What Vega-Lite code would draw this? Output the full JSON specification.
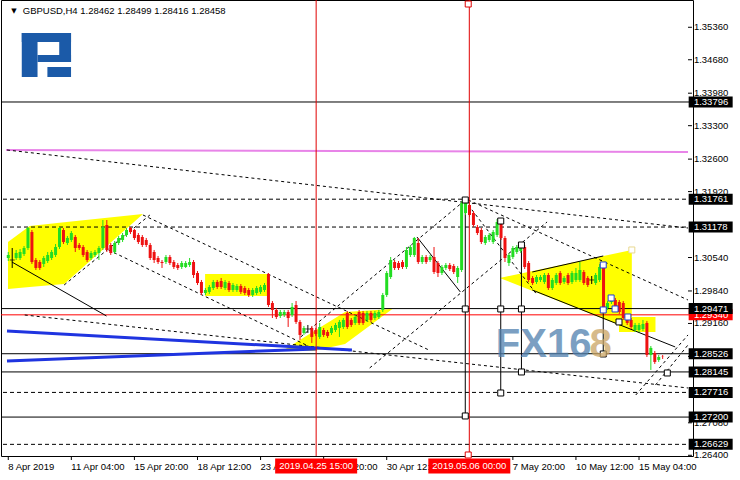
{
"$schema": "https://vega.github.io/schema/vega-lite/v6.json",
"width": 692, "height": 456,
"autosize": {"type": "none"},
"padding": {"left": 1, "top": 0, "right": 47, "bottom": 24},
"background": "white",
"config": {"view": {"stroke": "#000000", "strokeWidth": 1}},
"datasets": {
"candles": [
{"i":0,"o":1.30530,"h":1.30656,"l":1.30467,"c":1.30593},
{"i":1,"o":1.30488,"h":1.30739,"l":1.30321,"c":1.30488},
{"i":2,"o":1.30530,"h":1.30698,"l":1.30488,"c":1.30635},
{"i":3,"o":1.30530,"h":1.30718,"l":1.30488,"c":1.30656},
{"i":4,"o":1.30614,"h":1.30781,"l":1.30572,"c":1.30739},
{"i":5,"o":1.30739,"h":1.31179,"l":1.30698,"c":1.31158},
{"i":6,"o":1.31074,"h":1.31116,"l":1.30405,"c":1.30446},
{"i":7,"o":1.30488,"h":1.30530,"l":1.30279,"c":1.30321},
{"i":8,"o":1.30446,"h":1.30488,"l":1.30279,"c":1.30321},
{"i":9,"o":1.30405,"h":1.30572,"l":1.30342,"c":1.30530},
{"i":10,"o":1.30467,"h":1.30656,"l":1.30425,"c":1.30593},
{"i":11,"o":1.30530,"h":1.30698,"l":1.30488,"c":1.30656},
{"i":12,"o":1.30593,"h":1.30823,"l":1.30551,"c":1.30760},
{"i":13,"o":1.30760,"h":1.31179,"l":1.30718,"c":1.31158},
{"i":14,"o":1.31116,"h":1.31158,"l":1.30823,"c":1.30865},
{"i":15,"o":1.30844,"h":1.30991,"l":1.30802,"c":1.30949},
{"i":16,"o":1.30907,"h":1.31095,"l":1.30865,"c":1.31053},
{"i":17,"o":1.30970,"h":1.31011,"l":1.30656,"c":1.30739},
{"i":18,"o":1.30802,"h":1.30844,"l":1.30698,"c":1.30739},
{"i":19,"o":1.30760,"h":1.30802,"l":1.30551,"c":1.30593},
{"i":20,"o":1.30656,"h":1.30698,"l":1.30446,"c":1.30488},
{"i":21,"o":1.30530,"h":1.30677,"l":1.30488,"c":1.30635},
{"i":22,"o":1.30593,"h":1.30698,"l":1.30551,"c":1.30656},
{"i":23,"o":1.30635,"h":1.30781,"l":1.30488,"c":1.30739},
{"i":24,"o":1.30739,"h":1.31325,"l":1.30698,"c":1.31179},
{"i":25,"o":1.31221,"h":1.31325,"l":1.30656,"c":1.30698},
{"i":26,"o":1.30802,"h":1.30844,"l":1.30593,"c":1.30635},
{"i":27,"o":1.30656,"h":1.30886,"l":1.30614,"c":1.30844},
{"i":28,"o":1.30844,"h":1.30991,"l":1.30802,"c":1.30949},
{"i":29,"o":1.30907,"h":1.31053,"l":1.30865,"c":1.31011},
{"i":30,"o":1.31011,"h":1.31158,"l":1.30970,"c":1.31116},
{"i":31,"o":1.31158,"h":1.31179,"l":1.31032,"c":1.31074},
{"i":32,"o":1.31116,"h":1.31137,"l":1.30907,"c":1.30949},
{"i":33,"o":1.31011,"h":1.31053,"l":1.30823,"c":1.30865},
{"i":34,"o":1.30970,"h":1.31011,"l":1.30760,"c":1.30802},
{"i":35,"o":1.30907,"h":1.30949,"l":1.30760,"c":1.30802},
{"i":36,"o":1.30802,"h":1.30844,"l":1.30488,"c":1.30530},
{"i":37,"o":1.30656,"h":1.30698,"l":1.30425,"c":1.30488},
{"i":38,"o":1.30530,"h":1.30572,"l":1.30405,"c":1.30446},
{"i":39,"o":1.30446,"h":1.30488,"l":1.30321,"c":1.30425},
{"i":40,"o":1.30446,"h":1.30593,"l":1.30405,"c":1.30551},
{"i":41,"o":1.30551,"h":1.30593,"l":1.30384,"c":1.30425},
{"i":42,"o":1.30446,"h":1.30488,"l":1.30300,"c":1.30342},
{"i":43,"o":1.30384,"h":1.30425,"l":1.30279,"c":1.30321},
{"i":44,"o":1.30342,"h":1.30467,"l":1.30300,"c":1.30425},
{"i":45,"o":1.30342,"h":1.30467,"l":1.30321,"c":1.30425},
{"i":46,"o":1.30384,"h":1.30530,"l":1.30342,"c":1.30446},
{"i":47,"o":1.30446,"h":1.30488,"l":1.30112,"c":1.30174},
{"i":48,"o":1.30216,"h":1.30258,"l":1.29965,"c":1.30007},
{"i":49,"o":1.30028,"h":1.30070,"l":1.29756,"c":1.29798},
{"i":50,"o":1.29798,"h":1.29902,"l":1.29756,"c":1.29860},
{"i":51,"o":1.29819,"h":1.29965,"l":1.29777,"c":1.29923},
{"i":52,"o":1.29902,"h":1.30070,"l":1.29860,"c":1.30028},
{"i":53,"o":1.30028,"h":1.30070,"l":1.29881,"c":1.29923},
{"i":54,"o":1.30049,"h":1.30112,"l":1.29881,"c":1.29923},
{"i":55,"o":1.29902,"h":1.30070,"l":1.29860,"c":1.30028},
{"i":56,"o":1.30007,"h":1.30049,"l":1.29819,"c":1.29860},
{"i":57,"o":1.29860,"h":1.30007,"l":1.29819,"c":1.29965},
{"i":58,"o":1.29860,"h":1.29986,"l":1.29819,"c":1.29944},
{"i":59,"o":1.29944,"h":1.29986,"l":1.29777,"c":1.29819},
{"i":60,"o":1.29902,"h":1.29944,"l":1.29756,"c":1.29798},
{"i":61,"o":1.29860,"h":1.29902,"l":1.29714,"c":1.29756},
{"i":62,"o":1.29756,"h":1.29902,"l":1.29714,"c":1.29860},
{"i":63,"o":1.29798,"h":1.29944,"l":1.29756,"c":1.29902},
{"i":64,"o":1.29819,"h":1.29965,"l":1.29777,"c":1.29923},
{"i":65,"o":1.29860,"h":1.30007,"l":1.29819,"c":1.29965},
{"i":66,"o":1.30195,"h":1.30216,"l":1.29505,"c":1.29546},
{"i":67,"o":1.29588,"h":1.29630,"l":1.29274,"c":1.29442},
{"i":68,"o":1.29442,"h":1.29484,"l":1.29253,"c":1.29295},
{"i":69,"o":1.29316,"h":1.29442,"l":1.29274,"c":1.29400},
{"i":70,"o":1.29337,"h":1.29442,"l":1.29295,"c":1.29400},
{"i":71,"o":1.29400,"h":1.29442,"l":1.29086,"c":1.29274},
{"i":72,"o":1.29337,"h":1.29588,"l":1.29295,"c":1.29505},
{"i":73,"o":1.29546,"h":1.29630,"l":1.29149,"c":1.29191},
{"i":74,"o":1.29191,"h":1.29233,"l":1.28814,"c":1.28919},
{"i":75,"o":1.28960,"h":1.29107,"l":1.28919,"c":1.29065},
{"i":76,"o":1.29044,"h":1.29128,"l":1.28960,"c":1.29044},
{"i":77,"o":1.29065,"h":1.29107,"l":1.28751,"c":1.28877},
{"i":78,"o":1.29023,"h":1.29065,"l":1.28898,"c":1.28940},
{"i":79,"o":1.28877,"h":1.29170,"l":1.28835,"c":1.29086},
{"i":80,"o":1.29023,"h":1.29065,"l":1.28877,"c":1.28919},
{"i":81,"o":1.28981,"h":1.29023,"l":1.28856,"c":1.28898},
{"i":82,"o":1.28960,"h":1.29107,"l":1.28919,"c":1.29065},
{"i":83,"o":1.29023,"h":1.29170,"l":1.28981,"c":1.29128},
{"i":84,"o":1.29065,"h":1.29233,"l":1.28877,"c":1.29191},
{"i":85,"o":1.29086,"h":1.29274,"l":1.29044,"c":1.29233},
{"i":86,"o":1.29379,"h":1.29421,"l":1.29044,"c":1.29086},
{"i":87,"o":1.29233,"h":1.29274,"l":1.29086,"c":1.29128},
{"i":88,"o":1.29170,"h":1.29337,"l":1.29128,"c":1.29295},
{"i":89,"o":1.29400,"h":1.29442,"l":1.29128,"c":1.29170},
{"i":90,"o":1.29379,"h":1.29421,"l":1.29128,"c":1.29170},
{"i":91,"o":1.29233,"h":1.29421,"l":1.29191,"c":1.29379},
{"i":92,"o":1.29379,"h":1.29421,"l":1.29191,"c":1.29233},
{"i":93,"o":1.29274,"h":1.29421,"l":1.29233,"c":1.29379},
{"i":94,"o":1.29295,"h":1.29442,"l":1.29253,"c":1.29400},
{"i":95,"o":1.29442,"h":1.29798,"l":1.29400,"c":1.29756},
{"i":96,"o":1.29756,"h":1.30258,"l":1.29714,"c":1.30216},
{"i":97,"o":1.30132,"h":1.30551,"l":1.30091,"c":1.30488},
{"i":98,"o":1.30446,"h":1.30488,"l":1.30279,"c":1.30321},
{"i":99,"o":1.30425,"h":1.30467,"l":1.30279,"c":1.30321},
{"i":100,"o":1.30446,"h":1.30488,"l":1.30300,"c":1.30342},
{"i":101,"o":1.30342,"h":1.30760,"l":1.30300,"c":1.30698},
{"i":102,"o":1.30593,"h":1.30802,"l":1.30551,"c":1.30760},
{"i":103,"o":1.30593,"h":1.30970,"l":1.30551,"c":1.30949},
{"i":104,"o":1.30844,"h":1.30949,"l":1.30405,"c":1.30446},
{"i":105,"o":1.30446,"h":1.30593,"l":1.30405,"c":1.30551},
{"i":106,"o":1.30551,"h":1.30593,"l":1.30405,"c":1.30446},
{"i":107,"o":1.30488,"h":1.30593,"l":1.30446,"c":1.30551},
{"i":108,"o":1.30551,"h":1.30760,"l":1.30195,"c":1.30237},
{"i":109,"o":1.30425,"h":1.30467,"l":1.30132,"c":1.30216},
{"i":110,"o":1.30216,"h":1.30384,"l":1.30174,"c":1.30342},
{"i":111,"o":1.30321,"h":1.30425,"l":1.30279,"c":1.30384},
{"i":112,"o":1.30384,"h":1.30425,"l":1.30258,"c":1.30300},
{"i":113,"o":1.30363,"h":1.30405,"l":1.30195,"c":1.30237},
{"i":114,"o":1.30132,"h":1.30363,"l":1.30007,"c":1.30321},
{"i":115,"o":1.30279,"h":1.31723,"l":1.30237,"c":1.31681},
{"i":116,"o":1.31472,"h":1.31786,"l":1.31430,"c":1.31744},
{"i":117,"o":1.31639,"h":1.31702,"l":1.31388,"c":1.31430},
{"i":118,"o":1.31472,"h":1.31514,"l":1.31179,"c":1.31221},
{"i":119,"o":1.31179,"h":1.31221,"l":1.31011,"c":1.31053},
{"i":120,"o":1.31116,"h":1.31158,"l":1.30823,"c":1.30865},
{"i":121,"o":1.30844,"h":1.31011,"l":1.30802,"c":1.30970},
{"i":122,"o":1.30907,"h":1.31053,"l":1.30865,"c":1.31011},
{"i":123,"o":1.30865,"h":1.31116,"l":1.30823,"c":1.31074},
{"i":124,"o":1.31011,"h":1.31346,"l":1.30970,"c":1.31284},
{"i":125,"o":1.31284,"h":1.31325,"l":1.30907,"c":1.30949},
{"i":126,"o":1.30949,"h":1.30991,"l":1.30446,"c":1.30530},
{"i":127,"o":1.30425,"h":1.30635,"l":1.30363,"c":1.30593},
{"i":128,"o":1.30551,"h":1.30781,"l":1.30509,"c":1.30739},
{"i":129,"o":1.30656,"h":1.30802,"l":1.30614,"c":1.30760},
{"i":130,"o":1.30677,"h":1.30844,"l":1.30635,"c":1.30802},
{"i":131,"o":1.30760,"h":1.30802,"l":1.30300,"c":1.30342},
{"i":132,"o":1.30425,"h":1.30467,"l":1.30028,"c":1.30070},
{"i":133,"o":1.30112,"h":1.30153,"l":1.29965,"c":1.30007},
{"i":134,"o":1.30028,"h":1.30174,"l":1.29986,"c":1.30132},
{"i":135,"o":1.30070,"h":1.30174,"l":1.30028,"c":1.30132},
{"i":136,"o":1.30028,"h":1.30216,"l":1.29986,"c":1.30174},
{"i":137,"o":1.30174,"h":1.30216,"l":1.29860,"c":1.29902},
{"i":138,"o":1.29902,"h":1.30112,"l":1.29860,"c":1.30070},
{"i":139,"o":1.30007,"h":1.30216,"l":1.29965,"c":1.30174},
{"i":140,"o":1.30216,"h":1.30258,"l":1.29965,"c":1.30007},
{"i":141,"o":1.30028,"h":1.30153,"l":1.29986,"c":1.30112},
{"i":142,"o":1.30174,"h":1.30216,"l":1.29965,"c":1.30007},
{"i":143,"o":1.30028,"h":1.30258,"l":1.29986,"c":1.30216},
{"i":144,"o":1.30070,"h":1.30321,"l":1.30028,"c":1.30216},
{"i":145,"o":1.30070,"h":1.30446,"l":1.30028,"c":1.30279},
{"i":146,"o":1.30237,"h":1.30279,"l":1.29965,"c":1.30007},
{"i":147,"o":1.30112,"h":1.30153,"l":1.29923,"c":1.29965},
{"i":148,"o":1.30070,"h":1.30153,"l":1.29986,"c":1.30070},
{"i":149,"o":1.30007,"h":1.30216,"l":1.29965,"c":1.30174},
{"i":150,"o":1.30070,"h":1.30405,"l":1.30028,"c":1.30342},
{"i":151,"o":1.30321,"h":1.30363,"l":1.29358,"c":1.29400},
{"i":152,"o":1.29484,"h":1.29630,"l":1.29442,"c":1.29588},
{"i":153,"o":1.29609,"h":1.29756,"l":1.29567,"c":1.29714},
{"i":154,"o":1.29651,"h":1.29693,"l":1.29463,"c":1.29505},
{"i":155,"o":1.29609,"h":1.29651,"l":1.29358,"c":1.29400},
{"i":156,"o":1.29588,"h":1.29630,"l":1.29233,"c":1.29274},
{"i":157,"o":1.29295,"h":1.29337,"l":1.29128,"c":1.29170},
{"i":158,"o":1.29233,"h":1.29274,"l":1.29044,"c":1.29086},
{"i":159,"o":1.29023,"h":1.29170,"l":1.28981,"c":1.29128},
{"i":160,"o":1.29023,"h":1.29170,"l":1.28981,"c":1.29128},
{"i":161,"o":1.29044,"h":1.29233,"l":1.29002,"c":1.29149},
{"i":162,"o":1.29170,"h":1.29212,"l":1.28458,"c":1.28500},
{"i":163,"o":1.28500,"h":1.28688,"l":1.28186,"c":1.28647},
{"i":164,"o":1.28542,"h":1.28584,"l":1.28312,"c":1.28354},
{"i":165,"o":1.28396,"h":1.28500,"l":1.28354,"c":1.28458},
{"i":166,"o":1.28462,"h":1.28499,"l":1.28416,"c":1.28458}
],
"areas": [
{"p":"A","x":-0.075,"top":1.30865,"bot":1.29881},
{"p":"A","x":5.425,"top":1.31200,"bot":1.29921},
{"p":"A","x":14.175,"top":1.31277,"bot":1.29986},
{"p":"A","x":34.175,"top":1.31451,"bot":1.31451},
{"p":"B","x":49.925,"top":1.30195,"bot":1.29735},
{"p":"B","x":65.925,"top":1.30195,"bot":1.29735},
{"p":"C","x":69.925,"top":1.28605,"bot":1.28605},
{"p":"C","x":77.425,"top":1.28989,"bot":1.28584},
{"p":"C","x":85.425,"top":1.29400,"bot":1.28730},
{"p":"C","x":97.425,"top":1.29463,"bot":1.29463},
{"p":"D","x":124.675,"top":1.30112,"bot":1.30112},
{"p":"D","x":158.175,"top":1.30698,"bot":1.29023},
{"p":"E","x":154.925,"top":1.29295,"bot":1.28981},
{"p":"E","x":164.175,"top":1.29295,"bot":1.28981}
],
"levels": [{"v":1.33796},{"v":1.29471},{"v":1.28526},{"v":1.28145},{"v":1.27200}],
"dlevels": [{"v":1.31761},{"v":1.31178},{"v":1.27716},{"v":1.26629}],
"bidlevel": [{"v":1.29340}],
"magenta": [{"x":-0.575,"y":1.32791,"x2":172.425,"y2":1.32749}],
"dashed": [
{"x":-0.325,"y":1.32791,"x2":172.425,"y2":1.31158},
{"x":116.675,"y":1.31744,"x2":172.425,"y2":1.29651},
{"x":34.175,"y":1.31430,"x2":106.675,"y2":1.28605},
{"x":25.425,"y":1.30698,"x2":78.175,"y2":1.28605},
{"x":14.175,"y":1.29965,"x2":35.925,"y2":1.31430},
{"x":4.175,"y":1.29337,"x2":172.425,"y2":1.27809},
{"x":74.175,"y":1.28877,"x2":115.925,"y2":1.31744},
{"x":91.675,"y":1.28228,"x2":136.675,"y2":1.31284},
{"x":116.675,"y":1.31639,"x2":134.175,"y2":1.29756},
{"x":159.175,"y":1.27662,"x2":172.425,"y2":1.28919},
{"x":164.175,"y":1.27871,"x2":172.425,"y2":1.28709}
],
"solid": [
{"x":0.925,"y":1.30446,"x2":24.925,"y2":1.29316},
{"x":132.925,"y":1.30237,"x2":150.925,"y2":1.30572},
{"x":132.925,"y":1.29860,"x2":169.175,"y2":1.28668},
{"x":103.675,"y":1.30970,"x2":114.675,"y2":1.29819},
{"x":115.925,"y":1.31744,"x2":115.925,"y2":1.27202},
{"x":124.925,"y":1.31304,"x2":124.925,"y2":1.27704},
{"x":130.175,"y":1.30802,"x2":130.175,"y2":1.28144},
{"x":150.925,"y":1.30384,"x2":150.925,"y2":1.28521}
],
"blue": [
{"x":-0.325,"y":1.29002,"x2":87.175,"y2":1.28605},
{"x":-0.325,"y":1.28375,"x2":78.175,"y2":1.28626}
],
"times": [{"t":78.1,"label":"2019.04.25 15:00"},{"t":116.95,"label":"2019.05.06 00:00"}],
"yticks": [
{"v":1.3536,"label":"1.35360"},{"v":1.3468,"label":"1.34680"},{"v":1.3398,"label":"1.33980"},{"v":1.333,"label":"1.33300"},
{"v":1.326,"label":"1.32600"},{"v":1.3192,"label":"1.31920"},{"v":1.3054,"label":"1.30540"},
{"v":1.2984,"label":"1.29840"},{"v":1.2916,"label":"1.29160"},{"v":1.2847,"label":"1.28470"},
{"v":1.2708,"label":"1.27080"},{"v":1.264,"label":"1.26400"}
],
"xticks": [
{"t":0,"label":"8 Apr 2019"},{"t":16,"label":"11 Apr 04:00"},{"t":32,"label":"15 Apr 20:00"},{"t":48,"label":"18 Apr 12:00"},
{"t":64,"label":"23 Apr 04:00"},{"t":80,"label":"25 Apr 20:00"},{"t":96,"label":"30 Apr 12:00"},
{"t":128,"label":"7 May 20:00"},{"t":144,"label":"10 May 12:00"},{"t":160,"label":"15 May 04:00"}
],
"tags": [
{"v":1.29340,"label":"1.29340","kind":"bid"},
{"v":1.33796,"label":"1.33796","kind":"level"},
{"v":1.31761,"label":"1.31761","kind":"level"},
{"v":1.31178,"label":"1.31178","kind":"level"},
{"v":1.29471,"label":"1.29471","kind":"level"},
{"v":1.28526,"label":"1.28526","kind":"level"},
{"v":1.28145,"label":"1.28145","kind":"level"},
{"v":1.27716,"label":"1.27716","kind":"level"},
{"v":1.27200,"label":"1.27200","kind":"level"},
{"v":1.26629,"label":"1.26629","kind":"level"}
],
"anchors": [
{"x":115.925,"y":1.31744,"g":"tool"},{"x":115.925,"y":1.29463,"g":"tool"},{"x":115.925,"y":1.27223,"g":"tool"},
{"x":124.925,"y":1.31304,"g":"tool"},{"x":124.925,"y":1.29463,"g":"tool"},{"x":124.925,"y":1.27704,"g":"tool"},
{"x":130.175,"y":1.30802,"g":"tool"},{"x":130.175,"y":1.29463,"g":"tool"},{"x":130.175,"y":1.28144,"g":"tool"},
{"x":150.925,"y":1.28521,"g":"tool"},{"x":154.925,"y":1.29191,"g":"tool"},{"x":167.175,"y":1.28123,"g":"tool"},
{"x":150.925,"y":1.30384,"g":"pattern"},{"x":150.925,"y":1.29442,"g":"pattern"},{"x":152.925,"y":1.29693,"g":"pattern"},
{"x":153.925,"y":1.29463,"g":"pattern"},{"x":157.175,"y":1.29295,"g":"pattern"},
{"x":116.675,"y":1.35847,"g":"time"},{"x":116.675,"y":1.26406,"g":"time"},
{"x":158.175,"y":1.30698,"g":"target"}
],
"wm": [{"x":123.675,"y":1.28458,"label":"FX16","part":"a"},{"x":147.425,"y":1.28458,"label":"8","part":"b"}],
"logo": [
{"x":3.425,"x2":7.425,"y":1.35240,"y2":1.34319},
{"x":3.425,"x2":15.925,"y":1.35240,"y2":1.35052},
{"x":12.925,"x2":15.925,"y":1.35240,"y2":1.34633},
{"x":7.425,"x2":15.925,"y":1.34780,"y2":1.34633},
{"x":9.925,"x2":15.925,"y":1.34528,"y2":1.34319}
],
"hdr": [{"x":3.675,"y":1.35701,"label":"GBPUSD,H4  1.28462 1.28499 1.28416 1.28458"}],
"arrow": [{"x":1.425,"y":1.35701,"label":"▼"}]
},
"layer": [
{"data":{"name":"areas"},"mark":{"type":"area","color":"#ffff00","opacity":1},
 "encoding":{"x":{"field":"x","type":"quantitative","scale":{"domain":[-0.575,172.425],"nice":false,"zero":false},"axis":null},
  "y":{"field":"top","type":"quantitative","scale":{"domain":[1.26385,1.35931],"nice":false,"zero":false},"axis":null,"stack":null},
  "y2":{"field":"bot"},"detail":{"field":"p","type":"nominal"}}},
{"data":{"name":"levels"},"mark":{"type":"rule","color":"#000000","strokeWidth":1},
 "encoding":{"y":{"field":"v","type":"quantitative","scale":{"domain":[1.26385,1.35931],"nice":false,"zero":false},"axis":null}}},
{"data":{"name":"dlevels"},"mark":{"type":"rule","color":"#000000","strokeWidth":1,"strokeDash":[4,3]},
 "encoding":{"y":{"field":"v","type":"quantitative","scale":{"domain":[1.26385,1.35931],"nice":false,"zero":false},"axis":null}}},
{"data":{"name":"bidlevel"},"mark":{"type":"rule","color":"#ff0000","strokeWidth":1},
 "encoding":{"y":{"field":"v","type":"quantitative","scale":{"domain":[1.26385,1.35931],"nice":false,"zero":false},"axis":null}}},
{"data":{"name":"magenta"},"mark":{"type":"rule","color":"#e884e8","strokeWidth":2},
 "encoding":{"x":{"field":"x","type":"quantitative","scale":{"domain":[-0.575,172.425],"nice":false,"zero":false},"axis":null},
  "y":{"field":"y","type":"quantitative","scale":{"domain":[1.26385,1.35931],"nice":false,"zero":false},"axis":null},
  "x2":{"field":"x2"},"y2":{"field":"y2"}}},
{"data":{"name":"dashed"},"mark":{"type":"rule","color":"#000000","strokeWidth":1,"strokeDash":[3,3]},
 "encoding":{"x":{"field":"x","type":"quantitative","scale":{"domain":[-0.575,172.425],"nice":false,"zero":false},"axis":null},
  "y":{"field":"y","type":"quantitative","scale":{"domain":[1.26385,1.35931],"nice":false,"zero":false},"axis":null},
  "x2":{"field":"x2"},"y2":{"field":"y2"}}},
{"data":{"name":"solid"},"mark":{"type":"rule","color":"#000000","strokeWidth":1},
 "encoding":{"x":{"field":"x","type":"quantitative","scale":{"domain":[-0.575,172.425],"nice":false,"zero":false},"axis":null},
  "y":{"field":"y","type":"quantitative","scale":{"domain":[1.26385,1.35931],"nice":false,"zero":false},"axis":null},
  "x2":{"field":"x2"},"y2":{"field":"y2"}}},
{"data":{"name":"blue"},"mark":{"type":"rule","color":"#1f34e0","strokeWidth":3},
 "encoding":{"x":{"field":"x","type":"quantitative","scale":{"domain":[-0.575,172.425],"nice":false,"zero":false},"axis":null},
  "y":{"field":"y","type":"quantitative","scale":{"domain":[1.26385,1.35931],"nice":false,"zero":false},"axis":null},
  "x2":{"field":"x2"},"y2":{"field":"y2"}}},
{"data":{"name":"times"},"mark":{"type":"rule","color":"#e00000","strokeWidth":1},
 "encoding":{"x":{"field":"t","type":"quantitative","scale":{"domain":[-0.575,172.425],"nice":false,"zero":false},"axis":null}}},
{"data":{"name":"candles"},"mark":{"type":"rule","strokeWidth":1},
 "encoding":{"x":{"field":"i","type":"quantitative","scale":{"domain":[-0.575,172.425],"nice":false,"zero":false},"axis":null},
  "y":{"field":"l","type":"quantitative","scale":{"domain":[1.26385,1.35931],"nice":false,"zero":false},"axis":null},
  "y2":{"field":"h"},
  "color":{"condition":[{"test":"datum.c > datum.o","value":"#22dd22"},{"test":"datum.c < datum.o","value":"#ee1111"}],"value":"#000000"}}},
{"data":{"name":"candles"},"mark":{"type":"bar","size":3},
 "encoding":{"x":{"field":"i","type":"quantitative","scale":{"domain":[-0.575,172.425],"nice":false,"zero":false},"axis":null},
  "y":{"field":"o","type":"quantitative","scale":{"domain":[1.26385,1.35931],"nice":false,"zero":false},"axis":null,"stack":null},
  "y2":{"field":"c"},
  "color":{"condition":[{"test":"datum.c > datum.o","value":"#22dd22"},{"test":"datum.c < datum.o","value":"#ee1111"}],"value":"#000000"}}},
{"data":{"name":"candles"},"transform":[{"filter":"datum.o == datum.c"}],"mark":{"type":"tick","orient":"horizontal","size":5,"thickness":1,"color":"#000000"},
 "encoding":{"x":{"field":"i","type":"quantitative","scale":{"domain":[-0.575,172.425],"nice":false,"zero":false},"axis":null},
  "y":{"field":"o","type":"quantitative","scale":{"domain":[1.26385,1.35931],"nice":false,"zero":false},"axis":null}}},
{"data":{"name":"anchors"},"mark":{"type":"point","shape":"square","size":36,"filled":false,"fill":"#ffffff","fillOpacity":1,"opacity":1,"strokeWidth":1},
 "encoding":{"x":{"field":"x","type":"quantitative","scale":{"domain":[-0.575,172.425],"nice":false,"zero":false},"axis":null},
  "y":{"field":"y","type":"quantitative","scale":{"domain":[1.26385,1.35931],"nice":false,"zero":false},"axis":null},
  "stroke":{"field":"g","type":"nominal","scale":{"domain":["tool","pattern","time","target"],"range":["#000000","#1f3fd0","#e00000","#e8d890"]},"legend":null}}},
{"data":{"name":"wm"},"transform":[{"filter":"datum.part == 'a'"}],"mark":{"type":"text","font":"Liberation Sans","fontWeight":"bold","fontSize":40,"align":"left","baseline":"alphabetic","opacity":0.75,"color":"#4f7fae"},
 "encoding":{"x":{"field":"x","type":"quantitative","scale":{"domain":[-0.575,172.425],"nice":false,"zero":false},"axis":null},
  "y":{"field":"y","type":"quantitative","scale":{"domain":[1.26385,1.35931],"nice":false,"zero":false},"axis":null},
  "text":{"field":"label"}}},
{"data":{"name":"wm"},"transform":[{"filter":"datum.part == 'b'"}],"mark":{"type":"text","font":"Liberation Sans","fontWeight":"bold","fontSize":40,"align":"left","baseline":"alphabetic","opacity":0.75,"color":"#c9a463"},
 "encoding":{"x":{"field":"x","type":"quantitative","scale":{"domain":[-0.575,172.425],"nice":false,"zero":false},"axis":null},
  "y":{"field":"y","type":"quantitative","scale":{"domain":[1.26385,1.35931],"nice":false,"zero":false},"axis":null},
  "text":{"field":"label"}}},
{"data":{"name":"logo"},"mark":{"type":"rect","color":"#1b5aa8"},
 "encoding":{"x":{"field":"x","type":"quantitative","scale":{"domain":[-0.575,172.425],"nice":false,"zero":false},"axis":null},
  "x2":{"field":"x2"},
  "y":{"field":"y","type":"quantitative","scale":{"domain":[1.26385,1.35931],"nice":false,"zero":false},"axis":null},
  "y2":{"field":"y2"}}},
{"data":{"name":"hdr"},"mark":{"type":"text","font":"Liberation Sans","fontSize":9.5,"align":"left","baseline":"middle","color":"#000000"},
 "encoding":{"x":{"field":"x","type":"quantitative","scale":{"domain":[-0.575,172.425],"nice":false,"zero":false},"axis":null},
  "y":{"field":"y","type":"quantitative","scale":{"domain":[1.26385,1.35931],"nice":false,"zero":false},"axis":null},
  "text":{"field":"label"}}},
{"data":{"name":"arrow"},"mark":{"type":"text","font":"DejaVu Sans","fontSize":7,"align":"center","baseline":"middle","color":"#000000"},
 "encoding":{"x":{"field":"x","type":"quantitative","scale":{"domain":[-0.575,172.425],"nice":false,"zero":false},"axis":null},
  "y":{"field":"y","type":"quantitative","scale":{"domain":[1.26385,1.35931],"nice":false,"zero":false},"axis":null},
  "text":{"field":"label"}}},
{"data":{"name":"yticks"},"mark":{"type":"rule","color":"#000000","strokeWidth":1},
 "encoding":{"x":{"datum":172.425,"type":"quantitative","scale":{"domain":[-0.575,172.425],"nice":false,"zero":false},"axis":null},
  "x2":{"datum":173.425},
  "y":{"field":"v","type":"quantitative","scale":{"domain":[1.26385,1.35931],"nice":false,"zero":false},"axis":null}}},
{"data":{"name":"yticks"},"mark":{"type":"text","font":"Liberation Sans","fontSize":9.5,"align":"left","baseline":"middle","color":"#000000"},
 "encoding":{"x":{"datum":173.925,"type":"quantitative","scale":{"domain":[-0.575,172.425],"nice":false,"zero":false},"axis":null},
  "y":{"field":"v","type":"quantitative","scale":{"domain":[1.26385,1.35931],"nice":false,"zero":false},"axis":null},
  "text":{"field":"label"}}},
{"data":{"name":"xticks"},"mark":{"type":"rule","color":"#000000","strokeWidth":1},
 "encoding":{"x":{"field":"t","type":"quantitative","scale":{"domain":[-0.575,172.425],"nice":false,"zero":false},"axis":null},
  "y":{"datum":1.26385,"type":"quantitative","scale":{"domain":[1.26385,1.35931],"nice":false,"zero":false},"axis":null},
  "y2":{"datum":1.26301}}},
{"data":{"name":"xticks"},"mark":{"type":"text","font":"Liberation Sans","fontSize":9.5,"align":"left","baseline":"top","color":"#000000"},
 "encoding":{"x":{"field":"t","type":"quantitative","scale":{"domain":[-0.575,172.425],"nice":false,"zero":false},"axis":null},
  "y":{"datum":1.26260,"type":"quantitative","scale":{"domain":[1.26385,1.35931],"nice":false,"zero":false},"axis":null},
  "text":{"field":"label"}}},
{"data":{"name":"tags"},"transform":[{"filter":"datum.kind == 'bid'"}],"mark":{"type":"point","shape":"M-1,-0.25H1V0.25H-1Z","filled":true,"opacity":1,"size":1936,"strokeWidth":0,"color":"#ff0000"},
 "encoding":{"x":{"datum":178.175,"type":"quantitative","scale":{"domain":[-0.575,172.425],"nice":false,"zero":false},"axis":null},
  "y":{"field":"v","type":"quantitative","scale":{"domain":[1.26385,1.35931],"nice":false,"zero":false},"axis":null}}},
{"data":{"name":"tags"},"transform":[{"filter":"datum.kind == 'bid'"}],"mark":{"type":"text","font":"Liberation Sans","fontSize":9.5,"align":"left","baseline":"middle","color":"#ffffff"},
 "encoding":{"x":{"datum":173.925,"type":"quantitative","scale":{"domain":[-0.575,172.425],"nice":false,"zero":false},"axis":null},
  "y":{"field":"v","type":"quantitative","scale":{"domain":[1.26385,1.35931],"nice":false,"zero":false},"axis":null},
  "text":{"field":"label"}}},
{"data":{"name":"tags"},"transform":[{"filter":"datum.kind == 'level'"}],"mark":{"type":"point","shape":"M-1,-0.25H1V0.25H-1Z","filled":true,"opacity":1,"size":1936,"strokeWidth":0,"color":"#000000"},
 "encoding":{"x":{"datum":178.175,"type":"quantitative","scale":{"domain":[-0.575,172.425],"nice":false,"zero":false},"axis":null},
  "y":{"field":"v","type":"quantitative","scale":{"domain":[1.26385,1.35931],"nice":false,"zero":false},"axis":null}}},
{"data":{"name":"tags"},"transform":[{"filter":"datum.kind == 'level'"}],"mark":{"type":"text","font":"Liberation Sans","fontSize":9.5,"align":"left","baseline":"middle","color":"#ffffff"},
 "encoding":{"x":{"datum":173.925,"type":"quantitative","scale":{"domain":[-0.575,172.425],"nice":false,"zero":false},"axis":null},
  "y":{"field":"v","type":"quantitative","scale":{"domain":[1.26385,1.35931],"nice":false,"zero":false},"axis":null},
  "text":{"field":"label"}}},
{"data":{"name":"times"},"mark":{"type":"point","shape":"M-1,-0.183H1V0.183H-1Z","filled":true,"opacity":1,"size":6724,"color":"#ff0000","strokeWidth":0},
 "encoding":{"x":{"field":"t","type":"quantitative","scale":{"domain":[-0.575,172.425],"nice":false,"zero":false},"axis":null},
  "y":{"datum":1.26176,"type":"quantitative","scale":{"domain":[1.26385,1.35931],"nice":false,"zero":false},"axis":null}}},
{"data":{"name":"times"},"mark":{"type":"text","font":"Liberation Sans","fontSize":9.5,"align":"center","baseline":"middle","color":"#ffffff"},
 "encoding":{"x":{"field":"t","type":"quantitative","scale":{"domain":[-0.575,172.425],"nice":false,"zero":false},"axis":null},
  "y":{"datum":1.26176,"type":"quantitative","scale":{"domain":[1.26385,1.35931],"nice":false,"zero":false},"axis":null},
  "text":{"field":"label"}}}
]
}
